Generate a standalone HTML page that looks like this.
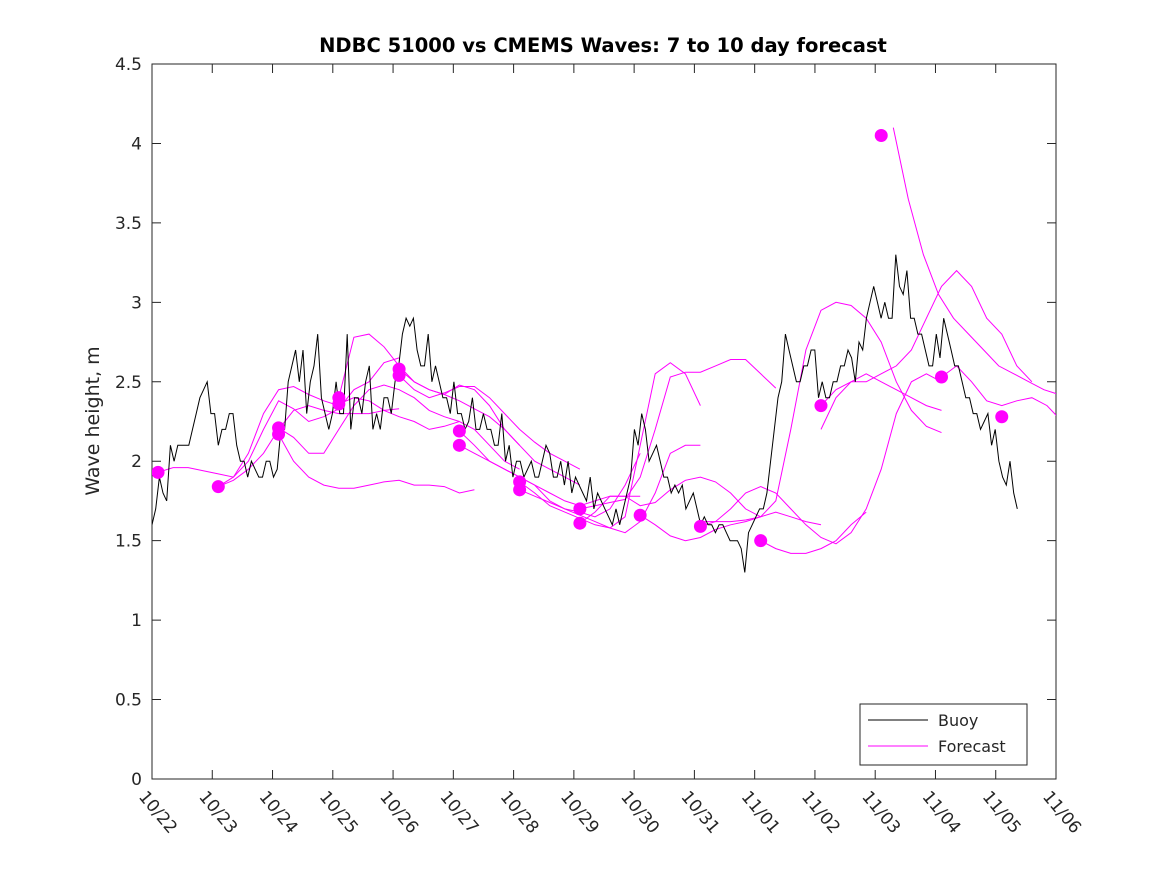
<!DOCTYPE html>
<html><head><meta charset="utf-8"><style>
body{margin:0;background:#fff;}
svg text{font-family:"DejaVu Sans","Liberation Sans",sans-serif;fill:#262626;}
</style></head><body>
<svg id="chart" width="1167" height="875" xmlns="http://www.w3.org/2000/svg">
<defs><clipPath id="clip"><rect x="152" y="64" width="904" height="715"/></clipPath></defs>
<rect x="0" y="0" width="1167" height="875" fill="#fff"/>
<text x="603" y="52" text-anchor="middle" font-size="19.5" font-weight="bold" style="fill:#000">NDBC 51000 vs CMEMS Waves: 7 to 10 day forecast</text>
<text transform="translate(99,421) rotate(-90)" text-anchor="middle" font-size="19">Wave height, m</text>
<g id="plot"></g>
<g>
<rect x="860" y="704" width="167" height="61" fill="#fff" stroke="#262626" stroke-width="1"/>
<line x1="868" y1="720" x2="928" y2="720" stroke="#000" stroke-width="1"/>
<text x="938" y="726" font-size="16">Buoy</text>
<line x1="868" y1="746" x2="928" y2="746" stroke="#f0f" stroke-width="1"/>
<text x="938" y="752" font-size="16">Forecast</text>
</g>
</svg>
<script>
const xLabels=["10/22","10/23","10/24","10/25","10/26","10/27","10/28","10/29","10/30","10/31","11/01","11/02","11/03","11/04","11/05","11/06"];
const yTicks=[0,0.5,1,1.5,2,2.5,3,3.5,4,4.5];
const buoyStep=0.0611;
const buoyValues=[1.6,1.7,1.9,1.8,1.75,2.1,2.0,2.1,2.1,2.1,2.1,2.2,2.3,2.4,2.45,2.5,
2.3,2.3,2.1,2.2,2.2,2.3,2.3,2.1,2.0,2.0,1.9,2.0,1.95,1.9,1.9,2.0,
2.0,1.9,1.95,2.2,2.2,2.5,2.6,2.7,2.5,2.7,2.3,2.5,2.6,2.8,2.4,2.3,
2.2,2.3,2.5,2.3,2.3,2.8,2.2,2.4,2.4,2.3,2.5,2.6,2.2,2.3,2.2,2.4,
2.4,2.3,2.5,2.6,2.8,2.9,2.85,2.9,2.7,2.6,2.6,2.8,2.5,2.6,2.5,2.4,
2.4,2.3,2.5,2.3,2.3,2.2,2.25,2.4,2.2,2.2,2.3,2.2,2.2,2.1,2.1,2.3,
2.0,2.1,1.9,2.0,2.0,1.9,1.95,2.0,1.9,1.9,2.0,2.1,2.05,1.9,1.9,2.0,
1.85,2.0,1.8,1.9,1.85,1.8,1.75,1.9,1.7,1.8,1.75,1.7,1.65,1.6,1.7,1.6,
1.7,1.8,1.9,2.2,2.1,2.3,2.2,2.0,2.05,2.1,2.0,1.9,1.9,1.8,1.85,1.8,
1.85,1.7,1.75,1.8,1.7,1.6,1.65,1.6,1.6,1.55,1.6,1.6,1.55,1.5,1.5,1.5,
1.45,1.3,1.55,1.6,1.65,1.7,1.7,1.8,2.0,2.2,2.4,2.5,2.8,2.7,2.6,2.5,
2.5,2.6,2.6,2.7,2.7,2.4,2.5,2.4,2.4,2.5,2.5,2.6,2.6,2.7,2.65,2.5,
2.75,2.7,2.9,3.0,3.1,3.0,2.9,3.0,2.9,2.9,3.3,3.1,3.05,3.2,2.9,2.9,
2.8,2.8,2.7,2.6,2.6,2.8,2.65,2.9,2.8,2.7,2.6,2.6,2.5,2.4,2.4,2.3,
2.3,2.2,2.25,2.3,2.1,2.2,2.0,1.9,1.85,2.0,1.8,1.7];
const fcStep=0.25;
const fcStarts=[0.1,1.1,1.1,2.1,2.1,3.1,3.1,4.1,4.1,5.1,5.1,6.1,6.1,7.1,7.1,8.1,9.1,10.1,9.1,11.1,11.1,12.3,13.1];
const fcValues=[
[1.93,1.96,1.96,1.94,1.92,1.90,2.05,2.3,2.45,2.47,2.42,2.38,2.35],
[1.84,1.9,2.0,2.2,2.38,2.33,2.25,2.28,2.33,2.45,2.5,2.62,2.65],
[1.84,1.88,1.95,2.05,2.2,2.32,2.35,2.32,2.30,2.30,2.30,2.32,2.33],
[2.21,2.15,2.05,2.05,2.2,2.35,2.45,2.48,2.45,2.40,2.32,2.28,2.25],
[2.17,2.0,1.9,1.85,1.83,1.83,1.85,1.87,1.88,1.85,1.85,1.84,1.80,1.82],
[2.4,2.78,2.8,2.72,2.6,2.5,2.45,2.42,2.48,2.45,2.35,2.2,2.1],
[2.36,2.4,2.38,2.32,2.28,2.25,2.2,2.22,2.25,2.2,2.1,2.0,1.95],
[2.58,2.5,2.45,2.42,2.38,2.33,2.28,2.2,2.1,2.0,1.95,1.9,1.85],
[2.54,2.45,2.4,2.43,2.47,2.47,2.4,2.3,2.2,2.12,2.05,2.0,1.95],
[2.19,2.1,2.0,1.95,1.9,1.85,1.8,1.75,1.72,1.75,1.78,1.78,1.78],
[2.1,2.05,2.0,1.95,1.9,1.85,1.75,1.7,1.68,1.65,1.7,1.85,2.05],
[1.87,1.8,1.72,1.68,1.64,1.60,1.58,1.65,2.1,2.55,2.62,2.55,2.35],
[1.82,1.78,1.74,1.7,1.66,1.62,1.58,1.55,1.62,1.8,2.05,2.1,2.1],
[1.7,1.72,1.74,1.76,1.9,2.2,2.53,2.56,2.56,2.6,2.64,2.64,2.55,2.46],
[1.61,1.68,1.78,1.78,1.72,1.74,1.82,1.88,1.9,1.87,1.80,1.70,1.65],
[1.66,1.6,1.53,1.5,1.52,1.57,1.6,1.62,1.65,1.68,1.65,1.62,1.60],
[1.59,1.62,1.7,1.8,1.84,1.8,1.7,1.6,1.52,1.48,1.55,1.7,1.95,2.3,2.5,2.55,2.5],
[1.5,1.45,1.42,1.42,1.45,1.5,1.6,1.68],
[1.62,1.62,1.62,1.63,1.65,1.75,2.2,2.7,2.95,3.0,2.98,2.9,2.75,2.5,2.32,2.22,2.18],
[2.35,2.45,2.5,2.55,2.5,2.45,2.4,2.35,2.32],
[2.2,2.4,2.5,2.5,2.55,2.6,2.7,2.9,3.1,3.2,3.1,2.9,2.8,2.6,2.5],
[4.1,3.65,3.3,3.05,2.9,2.8,2.7,2.6,2.55,2.5,2.45,2.42,2.3],
[2.53,2.6,2.5,2.38,2.35,2.38,2.4,2.35,2.25,2.2,2.1,2.03,2.1]];
const dotDays=[0.1,1.1,2.1,2.1,3.1,3.1,4.1,4.1,5.1,5.1,6.1,6.1,7.1,7.1,8.1,9.1,10.1,11.1,12.1,13.1,14.1];
const dotValues=[1.93,1.84,2.21,2.17,2.40,2.36,2.58,2.54,2.19,2.10,1.87,1.82,1.70,1.61,1.66,1.59,1.50,2.35,4.05,2.53,2.28];

const X0=152,X1=1056,Y0=779,Y1=64;
const xs=d=>X0+(X1-X0)*d/15;
const ys=v=>Y0-(Y0-Y1)*v/4.5;
const NS="http://www.w3.org/2000/svg";
const plot=document.getElementById('plot');
function mk(t,a){const e=document.createElementNS(NS,t);for(const k in a)e.setAttribute(k,a[k]);return e;}
const frame=mk('rect',{x:X0,y:Y1,width:X1-X0,height:Y0-Y1,fill:'none',stroke:'#262626','stroke-width':1});


plot.appendChild(frame);
yTicks.forEach(t=>{
 const y=ys(t);
 const l=mk('path',{d:`M${X0} ${y}h9M${X1} ${y}h-9`,stroke:'#262626'});
 
 
 plot.appendChild(l);
 const tx=mk('text',{x:X0-10,y:y+6,'text-anchor':'end','font-size':17});
 tx.textContent=String(t);
 
 
 plot.appendChild(tx);
});
xLabels.forEach((s,i)=>{
 const x=xs(i);
 const l=mk('path',{d:`M${x} ${Y0}v-9M${x} ${Y1}v9`,stroke:'#262626'});
 
 
 plot.appendChild(l);
 const tx=mk('text',{transform:`translate(${x-14},${Y0+18}) rotate(50)`,'font-size':17});
 tx.textContent=s;
 
 
 plot.appendChild(tx);
});
const g=mk('g',{'clip-path':'url(#clip)'});


plot.appendChild(g);
fcValues.forEach((arr,k)=>{
 const pts=arr.map((v,i)=>xs(fcStarts[k]+i*fcStep).toFixed(1)+','+ys(v).toFixed(1)).join(' ');
 const p=mk('polyline',{points:pts,fill:'none',stroke:'#f0f','stroke-width':1});
 
 
 g.appendChild(p);
});
const bpts=buoyValues.map((v,i)=>xs(i*buoyStep).toFixed(1)+','+ys(v).toFixed(1)).join(' ');
const bl=mk('polyline',{points:bpts,fill:'none',stroke:'#000','stroke-width':1});


g.appendChild(bl);
dotDays.forEach((d,i)=>{
 const c=mk('circle',{cx:xs(d),cy:ys(dotValues[i]),r:6.5,fill:'#f0f'});
 
 
 g.appendChild(c);
});
</script>
</body></html>
